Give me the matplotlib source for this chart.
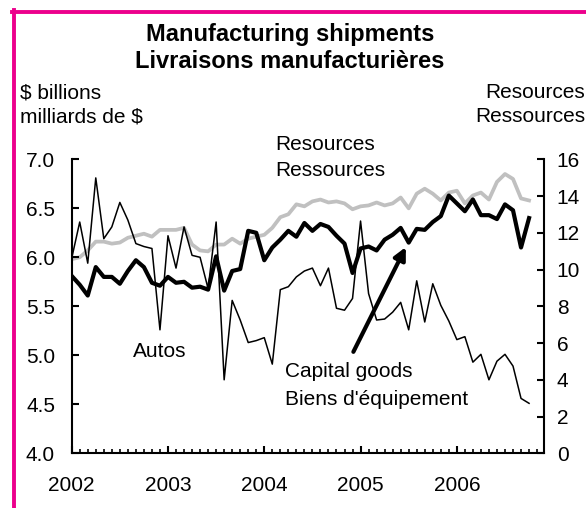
import numpy as np
import matplotlib
matplotlib.use("Agg")
import matplotlib.pyplot as plt
from matplotlib.lines import Line2D

plt.rcParams['font.family'] = ['Liberation Sans', 'DejaVu Sans']

# monthly data, Jan 2002 .. Oct 2006 ($ billions)
autos = [5.99, 6.36, 5.94, 6.81, 6.19, 6.31, 6.56, 6.38, 6.14, 6.11,
         6.09, 5.26, 6.22, 5.89, 6.31, 6.02, 6.00, 5.68, 6.36, 4.75,
         5.56, 5.36, 5.13, 5.15, 5.18, 4.91, 5.67, 5.70, 5.80, 5.86,
         5.89, 5.71, 5.89, 5.48, 5.46, 5.58, 6.37, 5.63, 5.36, 5.37,
         5.44, 5.54, 5.26, 5.76, 5.34, 5.73, 5.51, 5.35, 5.16, 5.19,
         4.93, 5.01, 4.75, 4.94, 5.01, 4.89, 4.56, 4.51]
capital = [5.81, 5.72, 5.61, 5.90, 5.80, 5.80, 5.73, 5.86, 5.97, 5.90,
           5.74, 5.71, 5.80, 5.74, 5.75, 5.69, 5.70, 5.67, 6.01, 5.66,
           5.86, 5.88, 6.27, 6.25, 5.97, 6.10, 6.18, 6.27, 6.21, 6.35,
           6.27, 6.34, 6.31, 6.22, 6.14, 5.84, 6.09, 6.11, 6.07, 6.18,
           6.23, 6.30, 6.15, 6.29, 6.28, 6.36, 6.42, 6.63, 6.55, 6.47,
           6.59, 6.43, 6.43, 6.39, 6.54, 6.48, 6.10, 6.40]
resources = [10.56, 10.67, 11.04, 11.52, 11.52, 11.41, 11.47, 11.73, 11.84, 11.95,
             11.79, 12.16, 12.16, 12.16, 12.27, 11.36, 11.04, 10.99, 11.36, 11.36,
             11.68, 11.41, 11.68, 11.79, 11.89, 12.27, 12.85, 13.01, 13.55, 13.44,
             13.71, 13.81, 13.65, 13.71, 13.60, 13.28, 13.44, 13.49, 13.65, 13.49,
             13.60, 13.92, 13.33, 14.13, 14.40, 14.13, 13.76, 14.19, 14.29, 13.60,
             14.03, 14.19, 13.81, 14.77, 15.20, 14.93, 13.87, 13.76]
years = ['2002', '2003', '2004', '2005', '2006']
left_ticks = [4.0, 4.5, 5.0, 5.5, 6.0, 6.5, 7.0]
right_ticks = [0, 2, 4, 6, 8, 10, 12, 14, 16]

W, H = 586, 508
fig = plt.figure(figsize=(W / 100, H / 100), dpi=100)
fig.patch.set_facecolor('white')

def fx(px):
    return px / W

def fy(py):
    return 1 - py / H

ax = fig.add_axes([fx(71.7), fy(453.3), (544.3 - 71.7) / W, (453.3 - 159.3) / H])
ax2 = ax.twinx()

m = np.arange(len(autos))
ax2.plot(m, resources, color='#c0c0c0', lw=2.7, solid_joinstyle='round')
ax.plot(m, autos, color='black', lw=1.1)
ax.plot(m, capital, color='black', lw=3.0, solid_joinstyle='round')

# black lines drawn over the grey one
ax.set_zorder(ax2.get_zorder() + 1)
ax.patch.set_visible(False)

ax.set_xlim(0, 58.9)
ax.set_ylim(4.0, 7.0)
ax2.set_ylim(0, 16)

ax.set_yticks(left_ticks)
ax.set_yticklabels([f'{v:.1f}' for v in left_ticks])
ax2.set_yticks(right_ticks)
ax2.set_yticklabels([str(v) for v in right_ticks])
ax.set_xticks(np.arange(len(years)) * 12)
ax.set_xticklabels(years)
ax.set_xticks(np.arange(0, 59), minor=True)

for a in (ax, ax2):
    a.spines['top'].set_visible(False)
    for s in ('left', 'right', 'bottom'):
        a.spines[s].set_linewidth(1.5)
ax.spines['right'].set_visible(False)
ax2.spines['left'].set_visible(False)
ax2.spines['bottom'].set_visible(False)

ax.tick_params(axis='y', direction='in', length=5, width=1.5, labelsize=15, pad=12)
ax2.tick_params(axis='y', direction='in', length=5, width=1.5, labelsize=15, pad=9)
ax.tick_params(axis='x', which='major', direction='in', length=5, width=1.5, labelsize=15, pad=16)
ax.tick_params(axis='x', which='minor', direction='in', length=3, width=1.2)

# arrow for capital goods
ax.annotate('', xy=(41.8, 6.13), xytext=(34.95, 5.01),
            arrowprops=dict(arrowstyle='-|>', lw=3, color='black', mutation_scale=18))

# titles and labels
fig.text(fx(290), fy(41), 'Manufacturing shipments', ha='center', va='baseline',
         fontsize=17, fontweight='bold')
fig.text(fx(290), fy(68), 'Livraisons manufacturières', ha='center', va='baseline',
         fontsize=17, fontweight='bold')
fig.text(fx(20), fy(98), '$ billions', ha='left', va='baseline', fontsize=15)
fig.text(fx(20), fy(122), 'milliards de $', ha='left', va='baseline', fontsize=15)
fig.text(fx(585), fy(98), 'Resources', ha='right', va='baseline', fontsize=15)
fig.text(fx(585), fy(122), 'Ressources', ha='right', va='baseline', fontsize=15)
fig.text(fx(275), fy(150), 'Resources', ha='left', va='baseline', fontsize=15)
fig.text(fx(275), fy(176), 'Ressources', ha='left', va='baseline', fontsize=15)
fig.text(fx(133), fy(357), 'Autos', ha='left', va='baseline', fontsize=15)
fig.text(fx(285), fy(377), 'Capital goods', ha='left', va='baseline', fontsize=15)
fig.text(fx(285), fy(405), "Biens d'équipement", ha='left', va='baseline', fontsize=15)

# magenta frame (top and left edges)
pink = '#ec008c'
fig.add_artist(Line2D([fx(13.7), fx(13.7)], [fy(10), 0], color=pink, lw=2.8,
                      transform=fig.transFigure))
fig.add_artist(Line2D([fx(12), 1], [fy(11.7), fy(11.7)], color=pink, lw=2.8,
                      transform=fig.transFigure))

fig.savefig('out.png', dpi=100)
